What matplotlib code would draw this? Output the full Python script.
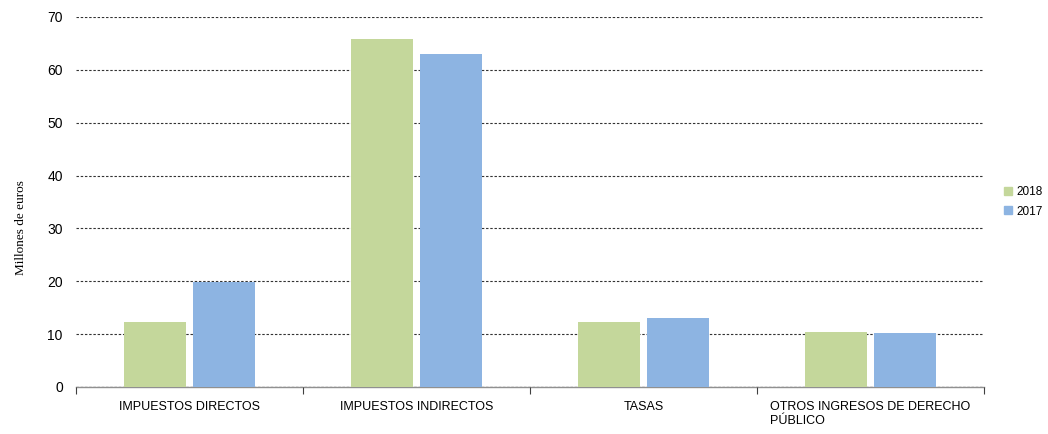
import matplotlib
matplotlib.use("Agg")
import matplotlib.pyplot as plt
import numpy as np
from matplotlib.lines import Line2D

categories = ["IMPUESTOS DIRECTOS", "IMPUESTOS INDIRECTOS", "TASAS",
              "OTROS INGRESOS DE DERECHO\nPÚBLICO"]
series_names = ["2018", "2017"]
values_2018 = [12.3, 65.8, 12.3, 10.4]
values_2017 = [19.9, 63.0, 13.05, 10.2]
yticks = [0, 10, 20, 30, 40, 50, 60, 70]
colors = ["#C4D79B", "#8DB4E2"]

plt.rcParams['font.family'] = ['Liberation Sans', 'DejaVu Sans']

fig = plt.figure(figsize=(10.48, 4.34), dpi=100)
ax = fig.add_axes([76/1048, 1-387/434, (984-76)/1048, (387-17)/434])

x = np.arange(len(categories))
w = 0.277
off = 0.152
ax.bar(x - off, values_2018, w, color=colors[0], zorder=3)
ax.bar(x + off, values_2017, w, color=colors[1], zorder=3)

ax.set_xlim(-0.5, len(categories) - 0.5)
ax.set_ylim(0, 70)
ax.set_yticks(yticks)
ax.tick_params(axis='y', length=0, labelsize=10, pad=9.5)
ax.set_xticks(x)
ax.set_xticklabels(categories, fontsize=9, multialignment='left')
ax.tick_params(axis='x', which='major', length=0, pad=10)
ax.set_xticks(np.arange(-0.5, len(categories)), minor=True)
ax.tick_params(axis='x', which='minor', length=5, width=0.8, color='#404040', direction='out')

ax.grid(axis='y', linestyle=(0, (2.2, 1.6)), color='#333333', linewidth=0.8, zorder=1)
for s in ['top', 'right', 'left']:
    ax.spines[s].set_visible(False)
ax.spines['bottom'].set_color('#909090')
ax.spines['bottom'].set_linewidth(1.0)
ax.spines['bottom'].set_zorder(0.5)
ax.axhline(0, linestyle=(0, (2.2, 1.6)), color='#333333', linewidth=0.8, zorder=2)

fig.text(21/1048, 1-228/434, "Millones de euros", rotation=90, va='center', ha='center',
         fontsize=9.5, family=['Liberation Serif', 'DejaVu Serif'])

handles = [Line2D([], [], marker='s', linestyle='none', markersize=6,
                  markerfacecolor=c, markeredgecolor=c) for c in colors]
fig.legend(handles, series_names, loc='center left', bbox_to_anchor=(996/1048, 1-202/434),
           frameon=False, fontsize=8.5, handletextpad=0.2, labelspacing=0.6,
           handlelength=1.0, borderpad=0)

fig.savefig("out.png", dpi=100)
